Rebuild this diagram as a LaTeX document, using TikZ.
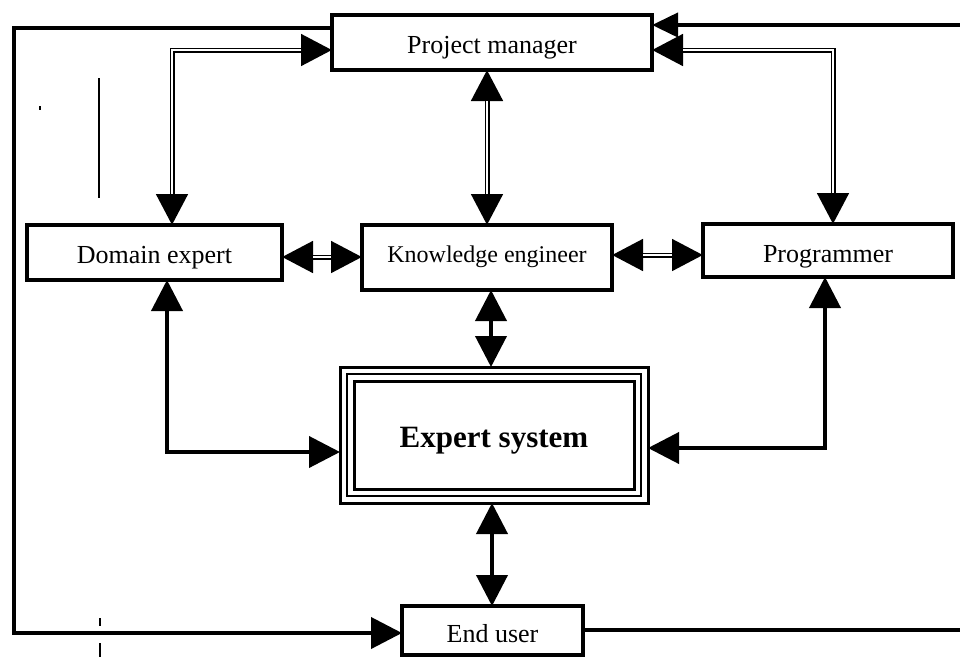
\documentclass[tikz,border=0pt]{standalone}
\usepackage{fontspec}
\setmainfont{Liberation Serif}
\usetikzlibrary{arrows.meta}
\begin{document}
\begin{tikzpicture}[x=1pt,y=-1pt,
  box/.style={draw, line width=4pt, inner sep=0pt, outer sep=0pt,
    text height=21pt, text depth=0pt,
    font=\fontsize{26}{30}\selectfont},
  bigtip/.tip={Triangle[length=31pt,width=31pt]},
  link/.style={line width=4pt, line cap=butt, bigtip-bigtip},
  pairlink/.style={line width=5pt, line cap=butt, bigtip-bigtip},
  pairgap/.style={white, line width=1.6pt, shorten <=31pt, shorten >=31pt},
  feed/.style={line width=4pt, line cap=butt, line join=miter, -bigtip},
  speck/.style={line width=2pt}
]
\useasboundingbox (0,0) rectangle (960,657);

% boxes
\node[box, minimum width=320pt, minimum height=55pt] (pm) at (492,42.5) {Project manager};
\node[box, minimum width=255pt, minimum height=55pt] (de) at (154.5,252.5) {Domain expert};
\node[box, minimum width=250pt, minimum height=65pt, text height=10pt,
      font=\fontsize{24}{28}\selectfont] (ke) at (487,257.5) {Knowledge engineer};
\node[box, minimum width=250pt, minimum height=53pt, text height=24pt] (prog) at (828,250.5) {Programmer};
\node[box, line width=3pt, minimum width=308pt, minimum height=136pt, text height=24pt,
      font=\fontsize{31}{36}\selectfont\bfseries] (es) at (494,435) {Expert system};
\draw[line width=1.5pt] ([xshift=7pt,yshift=-7pt]es.north west)
  rectangle ([xshift=-7pt,yshift=7pt]es.south east);
\draw[line width=3pt] ([xshift=14pt,yshift=-14pt]es.north west)
  rectangle ([xshift=-14pt,yshift=14pt]es.south east);
\node[box, minimum width=181pt, minimum height=49pt, text height=24pt] (eu) at (492.5,630.5) {End user};

% double-line links around the project manager
\draw[pairlink] (pm.west |- 0,50) -| (172,0 |- de.north);
\draw[pairgap]  (pm.west |- 0,50) -| (172,0 |- de.north);
\draw[pairlink] (pm.east |- 0,50) -| (833,0 |- prog.north);
\draw[pairgap]  (pm.east |- 0,50) -| (833,0 |- prog.north);
\draw[pairlink] (487,0 |- pm.south) -- (487,0 |- ke.north);
\draw[pairgap]  (487,0 |- pm.south) -- (487,0 |- ke.north);
\draw[pairlink] (de.east |- 0,257) -- (ke.west |- 0,257);
\draw[pairgap]  (de.east |- 0,257) -- (ke.west |- 0,257);
\draw[pairlink] (ke.east |- 0,255) -- (prog.west |- 0,255);
\draw[pairgap]  (ke.east |- 0,255) -- (prog.west |- 0,255);

% solid links to the expert system
\draw[link] (491,0 |- ke.south) -- (491,0 |- es.north);
\draw[link] (492,0 |- es.south) -- (492,0 |- eu.north);
\draw[link, line join=miter] (167,0 |- de.south) |- (es.west |- 0,452);
\draw[link, line join=miter] (825,0 |- prog.south) |- (es.east |- 0,448);

% outer loop between project manager and end user
\draw[feed] (pm.west |- 0,28) -| (14,633) -- (eu.west |- 0,633);
\coordinate (r1) at (960,630);
\coordinate (r2) at (960,25);
\draw[line width=4pt, line cap=butt] (eu.east |- 0,630) -- (r1);
\draw[line width=4pt, line cap=butt, -{Triangle[length=26pt,width=24pt]}] (r2) -- (pm.east |- 0,25);

% stray specks
\draw[speck] (99,78) -- (99,198);
\draw[speck] (100,618) -- (100,626);
\draw[speck] (100,643) -- (100,657);
\draw[line width=1.5pt] (40,106) -- (40,110);
\end{tikzpicture}
\end{document}
